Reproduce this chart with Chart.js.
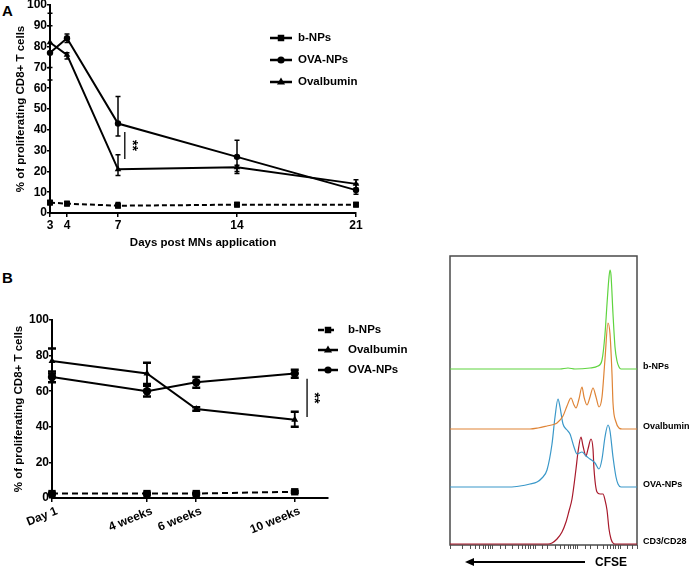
<!DOCTYPE html>
<html>
<head>
<meta charset="utf-8">
<script src="https://cdn.jsdelivr.net/npm/chart.js@4.4.1/dist/chart.umd.min.js"></script>
<style>
  body { margin: 0; background: #fff; width: 690px; height: 569px; position: relative; overflow: hidden; font-family: "Liberation Sans", Arial, sans-serif; }
  canvas { position: absolute; }
  #chartA { left: 0; top: 0; }
  #chartB { left: 0; top: 290px; }
  #chartC { left: 440px; top: 240px; }
  .panel { position: absolute; font-weight: bold; font-size: 15px; line-height: 15px; }
</style>
</head>
<body>
<div class="panel" style="left:2px;top:3px">A</div>
<div class="panel" style="left:2px;top:270px">B</div>
<canvas id="chartA" width="440" height="250"></canvas>
<canvas id="chartB" width="440" height="279"></canvas>
<canvas id="chartC" width="250" height="329"></canvas>
<script>
// Panel A: days after MN application
const daysA = [3, 4, 7, 14, 21];
const bNpsA = [5, 4.5, 3.5, 4, 4];
const ovaNpsA = [77, 84, 43, 27, 11];
const ovalbuminA = [82, 76, 21, 22, 14];
const bNpsErrA = [[4, 6], [3.5, 5.5], [2.5, 5], [3, 5], [3, 5]];
const ovaNpsErrA = [[64, 90], [82, 86], [37, 56], [19, 35], [9, 14]];
const ovalbuminErrA = [[70, 96], [74, 77], [18, 28], [20, 23], [12, 16]];

// Panel B: weeks
const weeksB = [1 / 7, 4, 6, 10];
const weekLabelsB = ['Day 1', '4 weeks', '6 weeks', '10 weeks'];
const bNpsB = [2.5, 2.5, 2.5, 3.5];
const ovalbuminB = [77, 70, 50, 44];
const ovaNpsB = [68, 60, 65, 70];
const bNpsErrB = [[2, 3], [2, 3], [2, 3], [3, 4]];
const ovalbuminErrB = [[70, 84], [64, 76], [49, 51], [40, 48.5]];
const ovaNpsErrB = [[65, 71], [57, 63], [62, 68], [67.5, 72]];

// CFSE histograms: [channel, count above own baseline]
const cfseLabels = ['b-NPs', 'Ovalbumin', 'OVA-NPs', 'CD3/CD28'];
const greenCurve = [[0,0],[110,0],[118,1],[125,0],[140,1],[148,3],[152,9],[155,35],[157,65],[159,92],[160,99],[161,94],[163,55],[165,22],[167,8],[169,2],[171,0],[187,0]];
const orangeCurve = [[0,0],[80,0],[88,1],[97,3],[105,5],[107,6],[113,13],[117,23],[121,31],[124,24],[126,21],[129,30],[132,42],[134,32],[137,24],[140,32],[143,41],[146,32],[149,22],[152,32],[155,70],[158,106],[160,95],[162,55],[163,26],[166,7],[169,1],[172,0],[187,0]];
const blueCurve = [[0,0],[60,0],[70,1],[80,3],[87,5],[92,9],[97,17],[102,43],[105,70],[108,88],[110,80],[113,63],[117,57],[120,53],[124,40],[127,33],[132,35],[136,31],[140,28],[145,24],[149,18],[152,28],[155,50],[158,62],[160,56],[163,30],[166,10],[168,3],[171,0],[187,0]];
const redCurve = [[0,0],[98,0],[102,1],[107,5],[112,12],[116,22],[119,33],[122,45],[126,75],[128,92],[131,107],[133,98],[136,88],[138,95],[141,105],[143,95],[144,75],[147,52],[150,50],[153,50],[155,44],[157,34],[159,15],[161,5],[163,1],[165,0],[187,0]];

Chart.defaults.font.family = '"Liberation Sans", Arial, sans-serif';
Chart.defaults.font.weight = 'bold';
Chart.defaults.font.size = 12;
Chart.defaults.color = '#000';
Chart.defaults.animation = false;

function marker(ctx, style, x, y, r) {
  ctx.beginPath();
  if (style === 'rect') {
    ctx.rect(x - r * 0.72, y - r * 0.72, r * 1.44, r * 1.44);
  } else if (style === 'triangle') {
    ctx.moveTo(x, y - r);
    ctx.lineTo(x + r * 0.9, y + r * 0.55);
    ctx.lineTo(x - r * 0.9, y + r * 0.55);
    ctx.closePath();
  } else {
    ctx.arc(x, y, r * 0.8, 0, Math.PI * 2);
  }
  ctx.fill();
}

function series(label, xs, ys, errs, style, radius, dash) {
  return {
    label: label,
    data: xs.map((x, i) => ({ x: x, y: ys[i] })),
    errors: errs,
    borderColor: '#000',
    backgroundColor: '#000',
    borderWidth: 2,
    borderDash: dash || [],
    pointStyle: style,
    pointRadius: radius,
    pointBorderWidth: 0,
    tension: 0,
    clip: false
  };
}

const errorBars = {
  id: 'errorBars',
  afterDatasetsDraw(chart, args, opts) {
    const ctx = chart.ctx;
    const y = chart.scales.y;
    ctx.save();
    ctx.strokeStyle = '#000';
    chart.data.datasets.forEach((ds, di) => {
      if (!ds.errors) return;
      chart.getDatasetMeta(di).data.forEach((pt, i) => {
        const lo = y.getPixelForValue(ds.errors[i][0]);
        const hi = y.getPixelForValue(ds.errors[i][1]);
        ctx.lineWidth = opts.width;
        ctx.beginPath();
        ctx.moveTo(pt.x, lo);
        ctx.lineTo(pt.x, hi);
        ctx.stroke();
        ctx.lineWidth = opts.capThick;
        ctx.beginPath();
        ctx.moveTo(pt.x - opts.cap, lo); ctx.lineTo(pt.x + opts.cap, lo);
        ctx.moveTo(pt.x - opts.cap, hi); ctx.lineTo(pt.x + opts.cap, hi);
        ctx.stroke();
      });
    });
    ctx.restore();
  }
};

const lineLegend = {
  id: 'lineLegend',
  afterDraw(chart, args, opts) {
    const ctx = chart.ctx;
    ctx.save();
    opts.order.forEach((di, k) => {
      const ds = chart.data.datasets[di];
      const y = opts.y + k * opts.gap;
      ctx.strokeStyle = '#000';
      ctx.fillStyle = '#000';
      ctx.lineWidth = 2.5;
      ctx.setLineDash(opts.dashed ? ds.borderDash : []);
      ctx.beginPath();
      ctx.moveTo(opts.x, y);
      ctx.lineTo(opts.x + opts.len, y);
      ctx.stroke();
      ctx.setLineDash([]);
      marker(ctx, ds.pointStyle, opts.x + opts.len / 2, y, opts.r);
      ctx.font = 'bold 11.5px "Liberation Sans", Arial, sans-serif';
      ctx.textBaseline = 'middle';
      ctx.fillText(ds.label, opts.x + opts.len + opts.textGap, y);
    });
    ctx.restore();
  }
};

const significance = {
  id: 'significance',
  afterDraw(chart, args, opts) {
    const ctx = chart.ctx;
    const x = chart.scales.x.getPixelForValue(opts.x);
    const y1 = chart.scales.y.getPixelForValue(opts.from);
    const y2 = chart.scales.y.getPixelForValue(opts.to);
    ctx.save();
    ctx.strokeStyle = '#000';
    ctx.lineWidth = 1.3;
    ctx.beginPath();
    ctx.moveTo(x, y1);
    ctx.lineTo(x, y2);
    ctx.stroke();
    ctx.translate(x + 7, (y1 + y2) / 2);
    ctx.rotate(Math.PI / 2);
    ctx.font = 'bold 14px "Liberation Sans", Arial, sans-serif';
    ctx.textAlign = 'center';
    ctx.textBaseline = 'middle';
    ctx.fillStyle = '#000';
    ctx.fillText('**', 0, 0);
    ctx.restore();
  }
};

function noPad(s) {
  s.paddingTop = 0; s.paddingBottom = 0; s.paddingLeft = 0; s.paddingRight = 0;
}

const axisGrid = { drawOnChartArea: false, color: '#000', lineWidth: 1.5 };
const axisBorder = { color: '#000', width: 2 };
const yTitle = '% of proliferating CD8+ T cells';

// ---------- Panel A ----------
new Chart(document.getElementById('chartA'), {
  type: 'line',
  data: {
    datasets: [
      series('b-NPs', daysA, bNpsA, bNpsErrA, 'rect', 4.2, [5, 3]),
      series('OVA-NPs', daysA, ovaNpsA, ovaNpsErrA, 'circle', 3.2),
      series('Ovalbumin', daysA, ovalbuminA, ovalbuminErrA, 'triangle', 3.8)
    ]
  },
  options: {
    responsive: false,
    layout: { padding: { top: 5, right: 84, left: 0, bottom: 0 } },
    plugins: {
      legend: { display: false },
      tooltip: { enabled: false },
      errorBars: { width: 1.5, cap: 2.5, capThick: 1.5 },
      lineLegend: { order: [0, 1, 2], x: 270, y: 38, gap: 22, len: 22, r: 4.5, textGap: 6, dashed: false },
      significance: { x: 7.4, from: 26, to: 39 }
    },
    scales: {
      x: {
        type: 'linear', min: 3, max: 21,
        afterBuildTicks: s => { s.ticks = daysA.map(v => ({ value: v })); },
        afterFit: s => { s.height = 37; noPad(s); },
        ticks: { autoSkip: false, maxRotation: 0, padding: 1 },
        grid: Object.assign({ tickLength: 4 }, axisGrid),
        border: axisBorder,
        title: { display: true, text: 'Days post MNs application', font: { size: 11.5 }, padding: 0 }
      },
      y: {
        min: 0, max: 100,
        afterFit: s => { s.width = 50; noPad(s); },
        ticks: { stepSize: 10, padding: 0 },
        grid: Object.assign({ tickLength: 3 }, axisGrid),
        border: axisBorder,
        title: { display: true, text: yTitle, font: { size: 11.5 }, padding: { top: 14, bottom: 0 } }
      }
    }
  },
  plugins: [errorBars, lineLegend, significance]
});

// ---------- Panel B ----------
new Chart(document.getElementById('chartB'), {
  type: 'line',
  data: {
    datasets: [
      series('b-NPs', weeksB, bNpsB, bNpsErrB, 'rect', 5.2, [6, 4]),
      series('Ovalbumin', weeksB, ovalbuminB, ovalbuminErrB, 'triangle', 4),
      series('OVA-NPs', weeksB, ovaNpsB, ovaNpsErrB, 'circle', 4.2)
    ]
  },
  options: {
    responsive: false,
    layout: { padding: { top: 30, right: 112, left: 0, bottom: 0 } },
    plugins: {
      legend: { display: false },
      tooltip: { enabled: false },
      errorBars: { width: 1.8, cap: 4, capThick: 2.5 },
      lineLegend: { order: [0, 1, 2], x: 318, y: 40, gap: 20, len: 20, r: 4.5, textGap: 10, dashed: true },
      significance: { x: 10.5, from: 45.5, to: 67 }
    },
    scales: {
      x: {
        type: 'linear', min: 1 / 7, max: 11.35,
        afterBuildTicks: s => { s.ticks = weeksB.map(v => ({ value: v })); },
        afterFit: s => { s.height = 71; noPad(s); },
        ticks: {
          autoSkip: false, minRotation: 22, maxRotation: 22, padding: 2, labelOffset: 5,
          callback: (v, i) => weekLabelsB[i]
        },
        grid: Object.assign({ tickLength: 4 }, axisGrid),
        border: axisBorder
      },
      y: {
        min: 0, max: 100,
        afterFit: s => { s.width = 52; noPad(s); },
        ticks: { stepSize: 20, padding: 0 },
        grid: Object.assign({ tickLength: 3 }, axisGrid),
        border: axisBorder,
        title: { display: true, text: yTitle, font: { size: 11.5 }, padding: { top: 12, bottom: 0 } }
      }
    }
  },
  plugins: [errorBars, lineLegend, significance]
});

// ---------- CFSE histograms ----------
const curveColors = ['#5fd43f', '#df8436', '#3a98c9', '#a8192b'];
const curveBaselines = [176, 116, 58, 1];

const histoBox = {
  id: 'histoBox',
  beforeDatasetsDraw(chart) {
    const { ctx, chartArea: a } = chart;
    ctx.save();
    ctx.strokeStyle = '#4a4a4a';
    ctx.lineWidth = 1.5;
    ctx.strokeRect(a.left, a.top, a.right - a.left, a.bottom - a.top);
    ctx.restore();
  },
  afterDraw(chart) {
    const { ctx, chartArea: a } = chart;
    const y = chart.scales.y;
    ctx.save();
    ctx.fillStyle = '#000';
    ctx.font = 'bold 9px "Liberation Sans", Arial, sans-serif';
    ctx.textBaseline = 'middle';
    cfseLabels.forEach((t, i) => {
      ctx.fillText(t, a.right + 6, y.getPixelForValue(curveBaselines[i]) - 2);
    });
    // CFSE arrow
    const ay = a.bottom + 17;
    ctx.strokeStyle = '#000';
    ctx.lineWidth = 1.8;
    ctx.beginPath();
    ctx.moveTo(a.left + 20, ay);
    ctx.lineTo(a.left + 135, ay);
    ctx.stroke();
    ctx.beginPath();
    ctx.moveTo(a.left + 15, ay);
    ctx.lineTo(a.left + 24, ay - 4);
    ctx.lineTo(a.left + 24, ay + 4);
    ctx.closePath();
    ctx.fill();
    ctx.font = 'bold 12px "Liberation Sans", Arial, sans-serif';
    ctx.fillText('CFSE', a.left + 145, ay + 1);
    ctx.restore();
  }
};

new Chart(document.getElementById('chartC'), {
  type: 'line',
  data: {
    datasets: [greenCurve, orangeCurve, blueCurve, redCurve].map((c, i) => ({
      label: cfseLabels[i],
      data: c.map(p => ({ x: p[0], y: p[1] + curveBaselines[i] })),
      borderColor: curveColors[i],
      borderWidth: 1.2,
      pointRadius: 0,
      cubicInterpolationMode: 'monotone',
      fill: false
    }))
  },
  options: {
    responsive: false,
    layout: { padding: { top: 16, right: 53, left: 10, bottom: 0 } },
    plugins: { legend: { display: false }, tooltip: { enabled: false } },
    scales: {
      x: { type: 'linear', min: 0, max: 187, display: false },
      x2: {
        type: 'logarithmic', position: 'bottom', min: 1, max: 25000,
        afterFit: s => { s.height = 24; noPad(s); },
        ticks: { autoSkip: false, maxRotation: 0, callback: () => '' },
        grid: { drawOnChartArea: false, tickLength: 4, color: '#555', lineWidth: 1 },
        border: { display: false }
      },
      y: { min: 0, max: 289, display: false }
    }
  },
  plugins: [histoBox]
});
</script>
</body>
</html>
